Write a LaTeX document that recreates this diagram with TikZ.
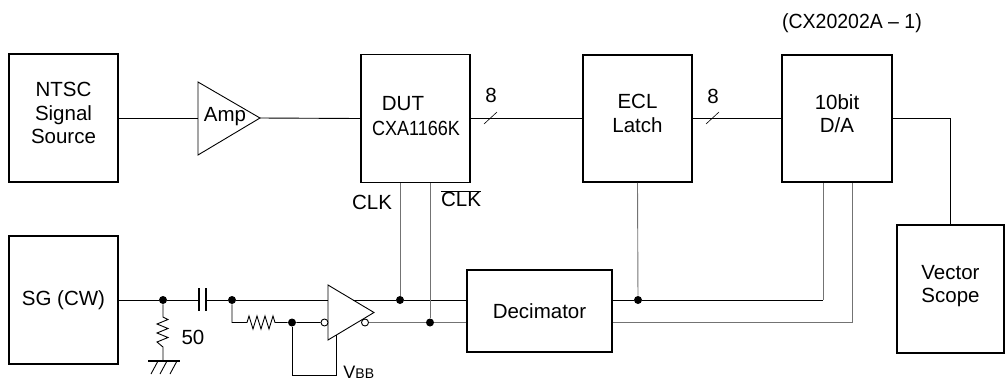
\documentclass[tikz,border=0pt]{standalone}
\usepackage{fontspec}
\setmainfont{Liberation Sans}
\begin{document}
\begin{tikzpicture}[x=1pt, y=-1pt, line width=0.9pt,
    every node/.style={font=\fontsize{20.5}{23.5}\selectfont, inner sep=0pt},
    blk/.style={draw, line width=1.7pt, align=center, minimum width=109pt, minimum height=128pt},
    mline/.style={text depth=10pt},
    jn/.style={circle, fill, minimum size=8pt},
    bub/.style={circle, draw, fill=white, minimum size=7pt},
    pin/.style={black!55}]
  \useasboundingbox (0,0) rectangle (1005,384);
  % blocks
  \node [blk, mline] (ntsc) at (63.5,118) {NTSC\\Signal\\Source};
  \node [blk] (dut) at (415.5,118.5) {};
  \node (dutname) at (403,104) {DUT};
  \node (dutpart) at (416,128) {\scalebox{0.88}[1]{CXA1166K}};
  \node [blk, mline, minimum height=127pt] (ecl) at (637.5,118.5) {ECL\\Latch};
  \node [blk, mline, minimum width=110pt, minimum height=127pt] (da) at (837,118.5) {10bit\\D/A};
  \node (title) at (852,23) {\scalebox{0.95}[1]{(CX20202A -- 1)}};
  \node [blk] (sg) at (63.5,300) {SG (CW)};
  \node [blk, minimum width=145pt, minimum height=82pt] (dec) at (539.5,311) {Decimator};
  \node [blk, mline, minimum width=107pt] (vs) at (950.5,289) {Vector\\Scope};
  % amplifier
  \coordinate (ampin) at (198,118);
  \coordinate (ampout) at (260,118);
  \draw (198,82) -- (ampout) -- (198,155) -- cycle;
  \node (amptext) at (225,117) {Amp};
  % line receiver
  \draw (328,285) -- (374,312.5) -- (328,340) -- cycle;
  \coordinate (bufin) at (328,300);
  \coordinate (bufout) at (353,300);
  \coordinate (vbb) at (336,335);
  \coordinate (vbbc) at (336,375);
  \node [bub] (bubin) at (324.5,322.5) {};
  \node [bub] (bubout) at (365,322.5) {};
  \node [anchor=base west] (vbblabel) at (343,378) {{\fontsize{18}{18}\selectfont V}{\fontsize{14}{14}\selectfont BB}};
  % junctions
  \node [jn] (j1) at (163,300) {};
  \node [jn] (j2) at (232,300) {};
  \node [jn] (j3) at (292,322.5) {};
  \node [jn] (j4) at (400,300) {};
  \node [jn] (j5) at (430,322.5) {};
  \node [jn] (j6) at (638,300) {};
  % capacitor
  \coordinate (capl) at (199,300);
  \coordinate (capr) at (206,300);
  \draw [line width=1.2pt] (199,288) -- (199,311) (206,288) -- (206,311);
  % resistors and ground
  \coordinate (r1a) at (247,322.5);
  \coordinate (r1b) at (275,322.5);
  \coordinate (r2a) at (163,317);
  \coordinate (r2b) at (163,347);
  \coordinate (gnd) at (163,361);
  \node (rlabel) at (193,337) {50};
  \draw [line width=1.7pt] (148,361) -- (180,361);
  \draw (158,361) -- ++(-7,13) (167,361) -- ++(-7,13) (177,361) -- ++(-7,13);
  % signal path
  \draw (ntsc) -- (ampin);
  \draw (ampout) -- (dut.west);
  \draw (dut.east) -- (ecl.west);
  \draw (ecl.east) -- (da.west);
  \draw (da.east) -| (vs.north);
  \draw [line width=0.6pt] (484,124) -- (497,112);
  \node (bus1) at (491,95) {8};
  \draw [line width=0.6pt] (706,124) -- (719,112);
  \node (bus2) at (713,96) {8};
  % clock path
  \draw (sg) -- (j1) -- (capl);
  \draw (capr) -- (j2) -- (bufin);
  \draw (j1) -- (r2a) -- ++(5,2.5) -- ++(-11,4.5) -- ++(11,4.5) -- ++(-11,4.5) -- ++(11,4.5) -- ++(-11,4.5) -- (r2b) -- (gnd);
  \draw (j2) |- (r1a) -- ++(2,-6.5) -- ++(4,13) -- ++(4,-13) -- ++(4,13) -- ++(4,-13) -- ++(4,13) -- ++(4,-13) -- (r1b) -- (j3) -- (bubin);
  \draw (j3) |- (vbbc) -- (vbb);
  \draw (bufout) -- (j4) -- (dec.west |- j4);
  \draw [pin] (bubout) -- (j5) -- (dec.west |- j5);
  \draw [pin] (dut.south -| j4) -- (j4);
  \draw [pin] (dut.south -| j5) -- (j5);
  \node (clk) at (372,202) {CLK};
  \node (clkbar) at (461,198.5) {$\overline{\hbox{CLK}}$};
  \coordinate (daclk) at ([xshift=-14pt]da.south);
  \coordinate (daclkb) at ([xshift=15pt]da.south);
  \draw (dec.east |- j6) -- (j6) -- (j6 -| daclk);
  \draw [pin] (j6 -| daclk) -- (daclk);
  \draw [pin] (dec.east |- j5) -- (j5 -| daclkb) -- (daclkb);
  \draw [pin] (ecl.south) -- (j6);
\end{tikzpicture}
\end{document}
